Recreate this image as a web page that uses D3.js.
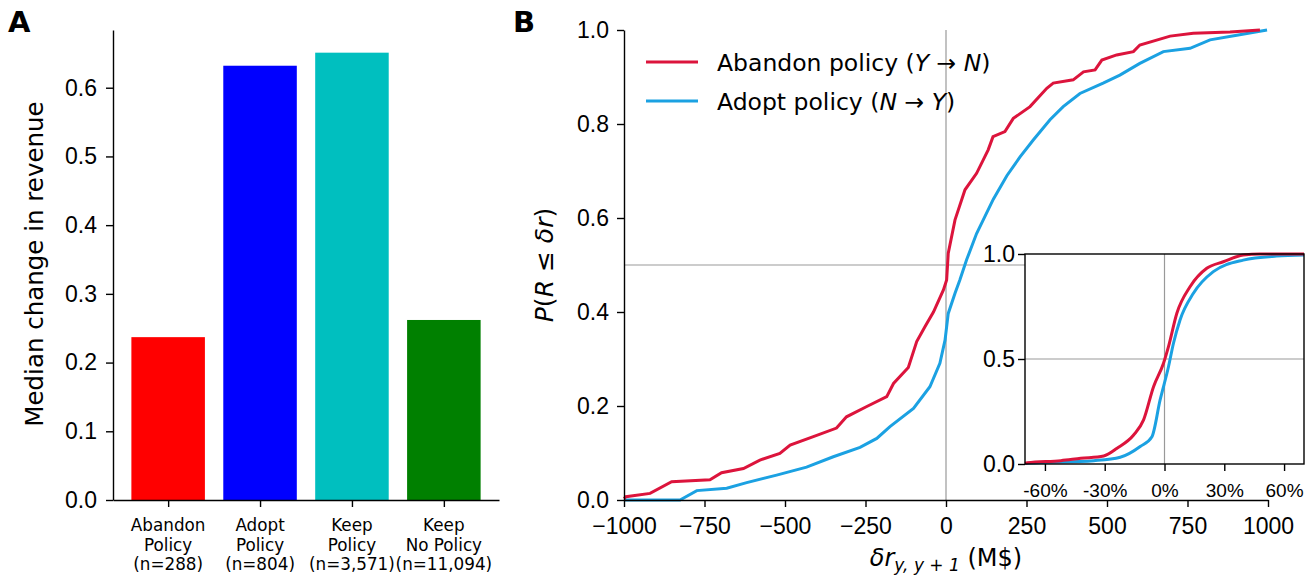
<!DOCTYPE html>
<html>
<head>
<meta charset="utf-8">
<script src="https://cdn.jsdelivr.net/npm/d3@7"></script>
<style>
  body { margin: 0; background: #fff; }
  svg { font-family: "DejaVu Sans", sans-serif; }
  .axis path, .axis line { stroke: #000; stroke-width: 1.4; }
  .axis text { fill: #000; }
</style>
</head>
<body>
<script>
//
// DATA
//

// Panel A: median change in revenue per group
var groupLines = [["Abandon", "Policy", "(n=288)"], ["Adopt", "Policy", "(n=804)"], ["Keep", "Policy", "(n=3,571)"], ["Keep", "No Policy", "(n=11,094)"]];
var medians = [0.237, 0.632, 0.651, 0.262];
var barColors = ["#ff0000", "#0000ff", "#00bfbf", "#008000"];
var yTicksA = [0.0, 0.1, 0.2, 0.3, 0.4, 0.5, 0.6];

var abandonX = [-1000, -994, -919, -852, -733, -697, -629, -578, -516, -484, -412, -340, -309, -246, -184, -163, -117, -91, -65, -39, -8, 2, 7, 28, 59, 95, 131, 146, 183, 209, 261, 313, 333, 395, 427, 463, 484, 530, 582, 602, 696, 768, 882, 975];
var abandonP = [0.003, 0.007, 0.014, 0.039, 0.043, 0.058, 0.067, 0.085, 0.099, 0.117, 0.135, 0.153, 0.177, 0.199, 0.220, 0.248, 0.282, 0.337, 0.369, 0.400, 0.447, 0.468, 0.525, 0.596, 0.660, 0.695, 0.745, 0.773, 0.784, 0.812, 0.837, 0.876, 0.887, 0.894, 0.911, 0.915, 0.936, 0.947, 0.954, 0.968, 0.987, 0.993, 0.996, 1.0];
var adoptX = [-1000, -826, -774, -681, -619, -526, -433, -350, -267, -215, -174, -101, -50, -19, -3, 7, 28, 43, 64, 95, 147, 189, 230, 271, 323, 364, 416, 488, 540, 602, 675, 758, 820, 903, 997];
var adoptP = [0.0, 0.0, 0.020, 0.025, 0.037, 0.053, 0.070, 0.092, 0.112, 0.131, 0.156, 0.195, 0.241, 0.291, 0.340, 0.397, 0.440, 0.468, 0.511, 0.567, 0.640, 0.690, 0.730, 0.766, 0.809, 0.837, 0.865, 0.887, 0.904, 0.929, 0.954, 0.961, 0.979, 0.989, 1.0];

// Inset: same CDFs in relative change
var abandonRelX = [-0.70, -0.688, -0.52, -0.42, -0.305, -0.238, -0.155, -0.105, -0.055, -0.005, 0.02, 0.062, 0.128, 0.212, 0.295, 0.395, 0.48, 0.70];
var abandonRelP = [0.004, 0.006, 0.016, 0.027, 0.038, 0.075, 0.138, 0.210, 0.368, 0.480, 0.559, 0.718, 0.844, 0.932, 0.963, 0.995, 1.0, 1.0];
var adoptRelX = [-0.70, -0.688, -0.355, -0.222, -0.122, -0.063, -0.022, 0.02, 0.045, 0.078, 0.145, 0.245, 0.395, 0.562, 0.70];
var adoptRelP = [0.002, 0.003, 0.016, 0.032, 0.083, 0.130, 0.305, 0.463, 0.575, 0.686, 0.813, 0.916, 0.971, 0.990, 0.995];

var xTicksB = [-1000, -750, -500, -250, 0, 250, 500, 750, 1000];
var yTicksB = [0.0, 0.2, 0.4, 0.6, 0.8, 1.0];
var xTicksInset = [-0.6, -0.3, 0, 0.3, 0.6];
var yTicksInset = [0.0, 0.5, 1.0];

var red = "#dc143c";
var blue = "#1ba1e2";

//
// CANVAS
//
var svg = d3.select("body").append("svg")
    .attr("width", 1314)
    .attr("height", 578);

// panel letters
svg.append("text").attr("x", 8).attr("y", 32).attr("font-size", 29).attr("font-weight", "bold").text("A");
svg.append("text").attr("x", 513).attr("y", 32).attr("font-size", 29).attr("font-weight", "bold").text("B");

//
// PANEL A
//
var xA = d3.scaleLinear().domain([-0.6, 3.6]).range([113, 499]);
var yA = d3.scaleLinear().domain([0, 0.684]).range([500, 30]);

var gA = svg.append("g");

gA.selectAll("rect")
  .data(medians)
  .enter()
  .append("rect")
  .attr("x", function(d, i){ return xA(i - 0.4); })
  .attr("width", function(d, i){ return xA(i + 0.4) - xA(i - 0.4); })
  .attr("y", function(d){ return yA(d); })
  .attr("height", function(d){ return yA(0) - yA(d); })
  .attr("fill", function(d, i){ return barColors[i]; });

var axisAy = gA.append("g").attr("class", "axis")
  .attr("transform", "translate(113,0)")
  .call(d3.axisLeft(yA).tickValues(yTicksA).tickFormat(d3.format(".1f")).tickSize(7).tickPadding(9).tickSizeOuter(0));
axisAy.selectAll("text").attr("font-size", 23);

gA.append("g").attr("class", "axis")
  .attr("transform", "translate(0,500)")
  .call(d3.axisBottom(xA).tickValues([0, 1, 2, 3]).tickFormat("").tickSize(7).tickSizeOuter(0));

// multi-line category labels
gA.selectAll("text.cat")
  .data(groupLines)
  .enter()
  .append("text")
  .attr("class", "cat")
  .attr("text-anchor", "middle")
  .attr("font-size", 16.8)
  .attr("x", function(d, i){ return xA(i); })
  .attr("y", 531)
  .each(function(d, i){
      var t = d3.select(this);
      d.forEach(function(line, j){
          t.append("tspan").attr("x", xA(i)).attr("dy", j === 0 ? 0 : 19.5).text(line);
      });
  });

gA.append("text")
  .attr("transform", "translate(43,264) rotate(-90)")
  .attr("text-anchor", "middle")
  .attr("font-size", 24.5)
  .text("Median change in revenue");

//
// PANEL B
//
var xB = d3.scaleLinear().domain([-1000, 1000]).range([624, 1268]);
var yB = d3.scaleLinear().domain([0, 1]).range([500, 30]);

var gB = svg.append("g");

// reference lines
gB.append("line").attr("x1", xB(-1000)).attr("x2", xB(1000)).attr("y1", yB(0.5)).attr("y2", yB(0.5))
  .attr("stroke", "#999").attr("stroke-width", 1.2);
gB.append("line").attr("x1", xB(0)).attr("x2", xB(0)).attr("y1", yB(0)).attr("y2", yB(1))
  .attr("stroke", "#999").attr("stroke-width", 1.2);

var lineB = d3.line()
  .x(function(d){ return xB(d[0]); })
  .y(function(d){ return yB(d[1]); })
  .curve(d3.curveLinear);

gB.append("path")
  .datum(d3.zip(adoptX, adoptP))
  .attr("d", lineB).attr("fill", "none").attr("stroke", blue).attr("stroke-width", 3);
gB.append("path")
  .datum(d3.zip(abandonX, abandonP))
  .attr("d", lineB).attr("fill", "none").attr("stroke", red).attr("stroke-width", 3);

var axisBy = gB.append("g").attr("class", "axis")
  .attr("transform", "translate(624,0)")
  .call(d3.axisLeft(yB).tickValues(yTicksB).tickFormat(d3.format(".1f")).tickSize(7).tickPadding(8).tickSizeOuter(0));
axisBy.selectAll("text").attr("font-size", 23);

var axisBx = gB.append("g").attr("class", "axis")
  .attr("transform", "translate(0,500)")
  .call(d3.axisBottom(xB).tickValues(xTicksB).tickFormat(function(d){ return d < 0 ? "\u2212" + Math.abs(d) : d; })
        .tickSize(7).tickPadding(11).tickSizeOuter(0));
axisBx.selectAll("text").attr("font-size", 23);

// axis labels
var ylab = gB.append("text")
  .attr("transform", "translate(553,265) rotate(-90)")
  .attr("text-anchor", "middle")
  .attr("font-size", 25);
ylab.append("tspan").attr("font-style", "italic").text("P");
ylab.append("tspan").text("(");
ylab.append("tspan").attr("font-style", "italic").text("R");
ylab.append("tspan").text(" \u2264 ");
ylab.append("tspan").attr("font-style", "italic").text("\u03b4r");
ylab.append("tspan").text(")");

var xlab = gB.append("text")
  .attr("x", 946).attr("y", 566)
  .attr("text-anchor", "middle")
  .attr("font-size", 24);
xlab.append("tspan").attr("font-style", "italic").text("\u03b4r");
xlab.append("tspan").attr("font-style", "italic").attr("font-size", 17).attr("dy", 5).text("y, y + 1");
xlab.append("tspan").attr("dy", -5).text(" (M$)");

// legend
var legend = [
  { color: red, pre: "Abandon policy (", a: "Y", b: "N" },
  { color: blue, pre: "Adopt policy (", a: "N", b: "Y" }
];
var lg = gB.selectAll("g.leg").data(legend).enter().append("g").attr("class", "leg")
  .attr("transform", function(d, i){ return "translate(0," + (62 + i * 39) + ")"; });
lg.append("line").attr("x1", 646).attr("x2", 698).attr("y1", 0).attr("y2", 0)
  .attr("stroke", function(d){ return d.color; }).attr("stroke-width", 3);
lg.append("text").attr("x", 717).attr("y", 8.5).attr("font-size", 23.5)
  .each(function(d){
      var t = d3.select(this);
      t.append("tspan").text(d.pre);
      t.append("tspan").attr("font-style", "italic").text(d.a);
      t.append("tspan").text(" \u2192 ");
      t.append("tspan").attr("font-style", "italic").text(d.b);
      t.append("tspan").text(")");
  });

//
// INSET
//
var xI = d3.scaleLinear().domain([-0.7, 0.7]).range([1025, 1304]);
var yI = d3.scaleLinear().domain([0, 1]).range([464, 254]);

var gI = svg.append("g");
gI.append("rect").attr("x", 1025).attr("y", 254).attr("width", 279).attr("height", 210).attr("fill", "#fff");
gI.append("line").attr("x1", xI(-0.7)).attr("x2", xI(0.7)).attr("y1", yI(0.5)).attr("y2", yI(0.5))
  .attr("stroke", "#999").attr("stroke-width", 1.2);
gI.append("line").attr("x1", xI(0)).attr("x2", xI(0)).attr("y1", yI(0)).attr("y2", yI(1))
  .attr("stroke", "#999").attr("stroke-width", 1.2);

var lineI = d3.line()
  .x(function(d){ return xI(d[0]); })
  .y(function(d){ return yI(d[1]); })
  .curve(d3.curveMonotoneX);

gI.append("path").datum(d3.zip(adoptRelX, adoptRelP))
  .attr("d", lineI).attr("fill", "none").attr("stroke", blue).attr("stroke-width", 3);
gI.append("path").datum(d3.zip(abandonRelX, abandonRelP))
  .attr("d", lineI).attr("fill", "none").attr("stroke", red).attr("stroke-width", 3);

gI.append("rect").attr("x", 1025).attr("y", 254).attr("width", 279).attr("height", 210)
  .attr("fill", "none").attr("stroke", "#000").attr("stroke-width", 1.4);

var axisIy = gI.append("g").attr("class", "axis")
  .attr("transform", "translate(1025,0)")
  .call(d3.axisLeft(yI).tickValues(yTicksInset).tickFormat(d3.format(".1f")).tickSize(7).tickPadding(3).tickSizeOuter(0));
axisIy.selectAll("text").attr("font-size", 23);
axisIy.select(".domain").remove();

var axisIx = gI.append("g").attr("class", "axis")
  .attr("transform", "translate(0,464)")
  .call(d3.axisBottom(xI).tickValues(xTicksInset)
        .tickFormat(function(d){ return (d < 0 ? "-" : "") + Math.round(Math.abs(d) * 100) + "%"; })
        .tickSize(7).tickPadding(13).tickSizeOuter(0));
axisIx.selectAll("text").attr("font-size", 19);
axisIx.select(".domain").remove();
</script>
</body>
</html>
